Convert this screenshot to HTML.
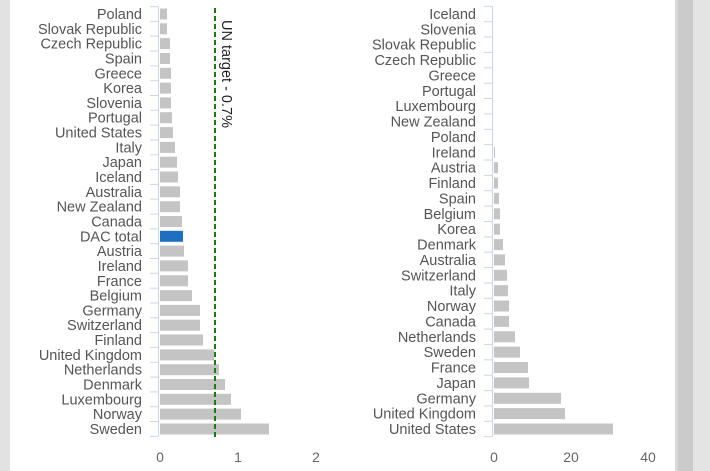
<!DOCTYPE html>
<html><head><meta charset="utf-8"><style>
html,body{margin:0;padding:0;background:#fff;width:710px;height:471px;overflow:hidden}
text{font-family:"Liberation Sans",sans-serif;font-size:14.5px;fill:#555}
.l{text-anchor:end}
.t{text-anchor:middle;fill:#666;font-size:14px}
</style></head><body>
<svg width="710" height="471" xmlns="http://www.w3.org/2000/svg">
<rect x="0" y="0" width="10" height="471" fill="#e2e2e2"/>
<rect x="675" y="0" width="3" height="471" fill="#dadada"/>
<rect x="678" y="0" width="15" height="471" fill="#cbcbcb"/>
<rect x="693" y="0" width="17" height="471" fill="#e4e4e4"/>
<!-- LEFT -->
<g stroke="#ccd6eb" stroke-width="1">
<line x1="158.5" y1="6.6" x2="158.5" y2="436.4"/>
<line x1="150" y1="6.6" x2="158" y2="6.6"/><line x1="150" y1="21.4" x2="158" y2="21.4"/><line x1="150" y1="36.2" x2="158" y2="36.2"/><line x1="150" y1="51" x2="158" y2="51"/><line x1="150" y1="65.9" x2="158" y2="65.9"/><line x1="150" y1="80.7" x2="158" y2="80.7"/><line x1="150" y1="95.5" x2="158" y2="95.5"/><line x1="150" y1="110.3" x2="158" y2="110.3"/><line x1="150" y1="125.1" x2="158" y2="125.1"/><line x1="150" y1="140" x2="158" y2="140"/><line x1="150" y1="154.8" x2="158" y2="154.8"/><line x1="150" y1="169.6" x2="158" y2="169.6"/><line x1="150" y1="184.4" x2="158" y2="184.4"/><line x1="150" y1="199.2" x2="158" y2="199.2"/><line x1="150" y1="214.1" x2="158" y2="214.1"/><line x1="150" y1="228.9" x2="158" y2="228.9"/><line x1="150" y1="243.7" x2="158" y2="243.7"/><line x1="150" y1="258.5" x2="158" y2="258.5"/><line x1="150" y1="273.3" x2="158" y2="273.3"/><line x1="150" y1="288.2" x2="158" y2="288.2"/><line x1="150" y1="303" x2="158" y2="303"/><line x1="150" y1="317.8" x2="158" y2="317.8"/><line x1="150" y1="332.6" x2="158" y2="332.6"/><line x1="150" y1="347.4" x2="158" y2="347.4"/><line x1="150" y1="362.3" x2="158" y2="362.3"/><line x1="150" y1="377.1" x2="158" y2="377.1"/><line x1="150" y1="391.9" x2="158" y2="391.9"/><line x1="150" y1="406.7" x2="158" y2="406.7"/><line x1="150" y1="421.5" x2="158" y2="421.5"/><line x1="150" y1="436.4" x2="158" y2="436.4"/>
</g>
<g fill="#c4c4c4">
<rect x="160" y="8.5" width="7" height="11"/>
<rect x="160" y="23.3" width="7" height="11"/>
<rect x="160" y="38.1" width="10" height="11"/>
<rect x="160" y="53" width="10" height="11"/>
<rect x="160" y="67.8" width="11" height="11"/>
<rect x="160" y="82.6" width="11" height="11"/>
<rect x="160" y="97.4" width="11" height="11"/>
<rect x="160" y="112.2" width="12" height="11"/>
<rect x="160" y="127.1" width="13" height="11"/>
<rect x="160" y="141.9" width="15" height="11"/>
<rect x="160" y="156.7" width="17" height="11"/>
<rect x="160" y="171.5" width="18" height="11"/>
<rect x="160" y="186.3" width="20" height="11"/>
<rect x="160" y="201.2" width="20" height="11"/>
<rect x="160" y="216" width="22" height="11"/>
<rect x="160" y="230.8" width="23" height="11" fill="#1e6fc1"/>
<rect x="160" y="245.6" width="24" height="11"/>
<rect x="160" y="260.4" width="28" height="11"/>
<rect x="160" y="275.3" width="28" height="11"/>
<rect x="160" y="290.1" width="32" height="11"/>
<rect x="160" y="304.9" width="40" height="11"/>
<rect x="160" y="319.7" width="40" height="11"/>
<rect x="160" y="334.5" width="43" height="11"/>
<rect x="160" y="349.4" width="54" height="11"/>
<rect x="160" y="364.2" width="59" height="11"/>
<rect x="160" y="379" width="65" height="11"/>
<rect x="160" y="393.8" width="71" height="11"/>
<rect x="160" y="408.6" width="81" height="11"/>
<rect x="160" y="423.5" width="109" height="11"/>
</g>
<line x1="215" y1="8" x2="215" y2="438" stroke="#1a7a1a" stroke-width="2" stroke-dasharray="5,3"/>
<text x="222" y="20" transform="rotate(90 222 20)" style="fill:#222">UN target - 0.7%</text>
<text class="l" x="142" y="19">Poland</text>
<text class="l" x="142" y="33.8">Slovak Republic</text>
<text class="l" x="142" y="48.6">Czech Republic</text>
<text class="l" x="142" y="63.5">Spain</text>
<text class="l" x="142" y="78.3">Greece</text>
<text class="l" x="142" y="93.1">Korea</text>
<text class="l" x="142" y="107.9">Slovenia</text>
<text class="l" x="142" y="122.7">Portugal</text>
<text class="l" x="142" y="137.6">United States</text>
<text class="l" x="142" y="152.4">Italy</text>
<text class="l" x="142" y="167.2">Japan</text>
<text class="l" x="142" y="182">Iceland</text>
<text class="l" x="142" y="196.8">Australia</text>
<text class="l" x="142" y="211.7">New Zealand</text>
<text class="l" x="142" y="226.5">Canada</text>
<text class="l" x="142" y="241.3">DAC total</text>
<text class="l" x="142" y="256.1">Austria</text>
<text class="l" x="142" y="270.9">Ireland</text>
<text class="l" x="142" y="285.8">France</text>
<text class="l" x="142" y="300.6">Belgium</text>
<text class="l" x="142" y="315.4">Germany</text>
<text class="l" x="142" y="330.2">Switzerland</text>
<text class="l" x="142" y="345">Finland</text>
<text class="l" x="142" y="359.9">United Kingdom</text>
<text class="l" x="142" y="374.7">Netherlands</text>
<text class="l" x="142" y="389.5">Denmark</text>
<text class="l" x="142" y="404.3">Luxembourg</text>
<text class="l" x="142" y="419.1">Norway</text>
<text class="l" x="142" y="434">Sweden</text>
<text class="t" x="160" y="462">0</text>
<text class="t" x="238" y="462">1</text>
<text class="t" x="316" y="462">2</text>
<!-- RIGHT -->
<g stroke="#ccd6eb" stroke-width="1">
<line x1="492.5" y1="6" x2="492.5" y2="437"/>
<line x1="484" y1="6.3" x2="492" y2="6.3"/><line x1="484" y1="21.7" x2="492" y2="21.7"/><line x1="484" y1="37" x2="492" y2="37"/><line x1="484" y1="52.4" x2="492" y2="52.4"/><line x1="484" y1="67.8" x2="492" y2="67.8"/><line x1="484" y1="83.2" x2="492" y2="83.2"/><line x1="484" y1="98.5" x2="492" y2="98.5"/><line x1="484" y1="113.9" x2="492" y2="113.9"/><line x1="484" y1="129.3" x2="492" y2="129.3"/><line x1="484" y1="144.6" x2="492" y2="144.6"/><line x1="484" y1="160" x2="492" y2="160"/><line x1="484" y1="175.4" x2="492" y2="175.4"/><line x1="484" y1="190.7" x2="492" y2="190.7"/><line x1="484" y1="206.1" x2="492" y2="206.1"/><line x1="484" y1="221.5" x2="492" y2="221.5"/><line x1="484" y1="236.9" x2="492" y2="236.9"/><line x1="484" y1="252.2" x2="492" y2="252.2"/><line x1="484" y1="267.6" x2="492" y2="267.6"/><line x1="484" y1="283" x2="492" y2="283"/><line x1="484" y1="298.3" x2="492" y2="298.3"/><line x1="484" y1="313.7" x2="492" y2="313.7"/><line x1="484" y1="329.1" x2="492" y2="329.1"/><line x1="484" y1="344.4" x2="492" y2="344.4"/><line x1="484" y1="359.8" x2="492" y2="359.8"/><line x1="484" y1="375.2" x2="492" y2="375.2"/><line x1="484" y1="390.6" x2="492" y2="390.6"/><line x1="484" y1="405.9" x2="492" y2="405.9"/><line x1="484" y1="421.3" x2="492" y2="421.3"/><line x1="484" y1="436.7" x2="492" y2="436.7"/>
</g>
<g fill="#c4c4c4">
<rect x="494" y="146.8" width="1" height="11"/>
<rect x="494" y="162.2" width="4" height="11"/>
<rect x="494" y="177.6" width="4" height="11"/>
<rect x="494" y="192.9" width="5" height="11"/>
<rect x="494" y="208.3" width="6" height="11"/>
<rect x="494" y="223.7" width="6" height="11"/>
<rect x="494" y="239.1" width="9" height="11"/>
<rect x="494" y="254.4" width="11" height="11"/>
<rect x="494" y="269.8" width="13" height="11"/>
<rect x="494" y="285.2" width="14" height="11"/>
<rect x="494" y="300.5" width="15" height="11"/>
<rect x="494" y="315.9" width="15" height="11"/>
<rect x="494" y="331.3" width="21" height="11"/>
<rect x="494" y="346.6" width="26" height="11"/>
<rect x="494" y="362" width="34" height="11"/>
<rect x="494" y="377.4" width="35" height="11"/>
<rect x="494" y="392.8" width="67" height="11"/>
<rect x="494" y="408.1" width="71" height="11"/>
<rect x="494" y="423.5" width="119" height="11"/>
</g>
<text class="l" x="476" y="19">Iceland</text>
<text class="l" x="476" y="34.4">Slovenia</text>
<text class="l" x="476" y="49.7">Slovak Republic</text>
<text class="l" x="476" y="65.1">Czech Republic</text>
<text class="l" x="476" y="80.5">Greece</text>
<text class="l" x="476" y="95.9">Portugal</text>
<text class="l" x="476" y="111.2">Luxembourg</text>
<text class="l" x="476" y="126.6">New Zealand</text>
<text class="l" x="476" y="142">Poland</text>
<text class="l" x="476" y="157.3">Ireland</text>
<text class="l" x="476" y="172.7">Austria</text>
<text class="l" x="476" y="188.1">Finland</text>
<text class="l" x="476" y="203.4">Spain</text>
<text class="l" x="476" y="218.8">Belgium</text>
<text class="l" x="476" y="234.2">Korea</text>
<text class="l" x="476" y="249.6">Denmark</text>
<text class="l" x="476" y="264.9">Australia</text>
<text class="l" x="476" y="280.3">Switzerland</text>
<text class="l" x="476" y="295.7">Italy</text>
<text class="l" x="476" y="311">Norway</text>
<text class="l" x="476" y="326.4">Canada</text>
<text class="l" x="476" y="341.8">Netherlands</text>
<text class="l" x="476" y="357.1">Sweden</text>
<text class="l" x="476" y="372.5">France</text>
<text class="l" x="476" y="387.9">Japan</text>
<text class="l" x="476" y="403.3">Germany</text>
<text class="l" x="476" y="418.6">United Kingdom</text>
<text class="l" x="476" y="434">United States</text>
<text class="t" x="494" y="462">0</text>
<text class="t" x="571" y="462">20</text>
<text class="t" x="648" y="462">40</text>
</svg>
</body></html>
